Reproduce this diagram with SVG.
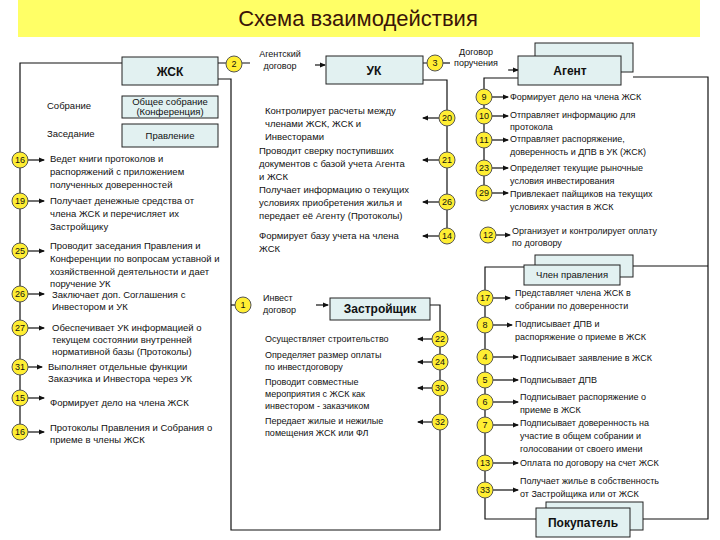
<svg xmlns="http://www.w3.org/2000/svg" width="720" height="540" viewBox="0 0 720 540">
<style>
text{font-family:"Liberation Sans",Arial,sans-serif;fill:#111}
.t{font-size:9.5px}
.s{font-size:9px}
.b{font-size:12px;font-weight:bold;text-anchor:middle}
.m{font-size:9.5px;text-anchor:middle}
.box{fill:#e2f1f1;stroke:#222;stroke-width:1}
.c circle{fill:#ffee33;stroke:#555;stroke-width:1}
.c text{font-size:9px;text-anchor:middle}
.ln{fill:none;stroke:#111;stroke-width:1.2}
</style>
<defs>
<marker id="a" markerWidth="6" markerHeight="6" refX="5" refY="3" orient="auto" markerUnits="userSpaceOnUse"><path d="M0,0.5L6,3L0,5.5z" fill="#111"/></marker>
</defs>
<rect x="18" y="0" width="682" height="37" fill="#ffff66"/>
<text x="358" y="26" style="font-size:22px;text-anchor:middle;fill:#3a1408">Схема взаимодействия</text>

<g id="connectors" class="ln">
<path d="M122,63H20V432"/>
<path d="M218,63H226M242,63H250"/>
<path d="M218,79H231V530H440V305H430"/>
<path d="M423,63H428M423,80H447V236"/>
<path d="M442,63H450"/>
<path d="M518,78H484V193"/>
<path d="M633,77H708V519H643"/>
<path d="M524,267H485V519H536"/>
<path d="M633,266H708"/>
<path d="M231,305H236"/>
<g marker-end="url(#a)">
<path d="M315,65H325"/><path d="M508,70H518"/><path d="M316,305H328"/>
<path d="M28,160H44"/><path d="M28,201H44"/><path d="M28,251H44"/><path d="M28,294H44"/><path d="M28,328H44"/><path d="M28,367H42"/><path d="M28,398H44"/><path d="M28,432H44"/>
<path d="M439,118H423"/><path d="M439,160H423"/><path d="M439,202H423"/><path d="M439,236H423"/>
<path d="M432,339H418"/><path d="M432,362H418"/><path d="M432,388H418"/><path d="M432,422H418"/>
<path d="M492,97H508"/><path d="M492,116H508"/><path d="M492,140H508"/><path d="M492,168H508"/><path d="M492,193H508"/><path d="M496,235H510"/>
<path d="M493,298H510"/><path d="M493,325H512"/><path d="M493,357H518"/><path d="M493,380H518"/><path d="M493,402H518"/><path d="M493,425H518"/><path d="M493,463H518"/><path d="M493,490H518"/>
</g>
</g>

<g id="zhsk"><rect class="box" x="122" y="57" width="96" height="28"/><text class="b" x="170" y="76">ЖСК</text></g>
<g id="sobranie"><text class="t" x="47" y="109">Собрание</text><rect class="box" x="122" y="96" width="96" height="22"/><text class="m" x="170" y="105">Общее собрание</text><text class="m" x="170" y="115">(Конференция)</text></g>
<g id="pravlenie"><text class="t" x="47" y="137">Заседание</text><rect class="box" x="122" y="124" width="96" height="23"/><text class="m" x="170" y="139">Правление</text></g>
<g id="uk"><rect class="box" x="326" y="56" width="97" height="28"/><text class="b" x="374" y="75">УК</text></g>
<g id="agent"><rect class="box" x="535" y="43" width="98" height="29"/><rect class="box" x="518" y="56" width="103" height="29"/><text class="b" x="570" y="75">Агент</text></g>
<g id="zastr"><rect class="box" x="330" y="298" width="100" height="22"/><text class="b" x="380" y="313">Застройщик</text></g>
<g id="chlen"><rect class="box" x="535" y="255" width="98" height="22"/><rect class="box" x="524" y="265" width="96" height="20"/><text class="m" x="572" y="278">Член правления</text></g>
<g id="pokup"><rect class="box" x="546" y="502" width="97" height="28"/><rect class="box" x="536" y="508" width="94" height="29"/><text class="b" x="583" y="527">Покупатель</text></g>

<g id="labels" class="s">
<text x="280" y="57" text-anchor="middle">Агентский</text><text x="280" y="69" text-anchor="middle">договор</text>
<text x="476" y="55" text-anchor="middle">Договор</text><text x="476" y="66" text-anchor="middle">поручения</text>
<text x="263" y="301">Инвест</text><text x="263" y="313">договор</text>
</g>

<g id="zhsk-items" class="t">
<text x="50" y="162">Ведет книги протоколов и</text><text x="50" y="175">распоряжений с приложением</text><text x="50" y="188">полученных доверенностей</text>
<text x="50" y="204">Получает денежные средства от</text><text x="50" y="217">члена ЖСК и перечисляет их</text><text x="50" y="230">Застройщику</text>
<text x="50" y="249">Проводит заседания Правления и</text><text x="50" y="262">Конференции по вопросам уставной и</text><text x="50" y="275">хозяйственной деятельности и дает</text><text x="50" y="287">поручение УК</text>
<text x="52" y="298">Заключает доп. Соглашения с</text><text x="52" y="310">Инвестором и УК</text>
<text x="52" y="331">Обеспечивает УК информацией о</text><text x="52" y="343">текущем состоянии внутренней</text><text x="52" y="355">нормативной базы (Протоколы)</text>
<text x="48" y="370">Выполняет отдельные функции</text><text x="48" y="382">Заказчика и Инвестора через УК</text>
<text x="50" y="406">Формирует дело на члена ЖСК</text>
<text x="50" y="431">Протоколы Правления и Собрания о</text><text x="50" y="443">приеме в члены ЖСК</text>
</g>
<g id="uk-items" class="t">
<text x="265" y="114">Контролирует расчеты между</text><text x="265" y="127">членами ЖСК, ЖСК и</text><text x="265" y="140">Инвесторами</text>
<text x="259" y="154">Проводит сверку поступивших</text><text x="259" y="167">документов с базой учета Агента</text><text x="259" y="180">и ЖСК</text>
<text x="259" y="193">Получает информацию о  текущих</text><text x="259" y="206">условиях приобретения жилья и</text><text x="259" y="219">передает её Агенту (Протоколы)</text>
<text x="259" y="239">Формирует базу учета на члена</text><text x="259" y="252">ЖСК</text>
</g>
<g id="zastr-items" class="s">
<text x="265" y="342">Осуществляет строительство</text>
<text x="265" y="358">Определяет размер оплаты</text><text x="265" y="370">по инвестдоговору</text>
<text x="265" y="385">Проводит совместные</text><text x="265" y="397">мероприятия с ЖСК как</text><text x="265" y="409">инвестором -  заказчиком</text>
<text x="265" y="424">Передает  жилые и нежилые</text><text x="265" y="436">помещения ЖСК или ФЛ</text>
</g>
<g id="agent-items" class="s">
<text x="510" y="100">Формирует дело на члена ЖСК</text>
<text x="510" y="118">Отправляет информацию для</text><text x="510" y="130">протокола</text>
<text x="510" y="142">Отправляет распоряжение,</text><text x="510" y="155">доверенность и ДПВ в УК (ЖСК)</text>
<text x="510" y="171">Определяет текущие рыночные</text><text x="510" y="184">условия инвестирования</text>
<text x="510" y="197">Привлекает пайщиков на текущих</text><text x="510" y="210">условиях участия в ЖСК</text>
<text x="512" y="234">Организует и контролирует оплату</text><text x="512" y="246">по договору</text>
</g>
<g id="buyer-items" class="s">
<text x="515" y="296">Представляет члена ЖСК  в</text><text x="515" y="309">собрании по доверенности</text>
<text x="515" y="327">Подписывает ДПВ  и</text><text x="515" y="340">распоряжение о приеме в ЖСК</text>
<text x="520" y="361">Подписывает заявление в ЖСК</text>
<text x="520" y="383">Подписывает ДПВ</text>
<text x="520" y="400">Подписывает распоряжение о</text><text x="520" y="413">приеме в ЖСК</text>
<text x="520" y="426">Подписывает доверенность на</text><text x="520" y="439">участие в общем собрании и</text><text x="520" y="452">голосовании от своего имени</text>
<text x="520" y="466">Оплата по договору на счет ЖСК</text>
<text x="520" y="484">Получает жилье в собственность</text><text x="520" y="497">от Застройщика или от ЖСК</text>
</g>

<g id="badges" class="c">
<circle cx="234" cy="64" r="8"/><text x="234" y="67">2</text>
<circle cx="435" cy="63" r="8"/><text x="435" y="66">3</text>
<circle cx="243" cy="305" r="8"/><text x="243" y="308">1</text>
<circle cx="20" cy="160" r="8"/><text x="20" y="163">16</text>
<circle cx="20" cy="201" r="8"/><text x="20" y="204">19</text>
<circle cx="20" cy="251" r="8"/><text x="20" y="254">25</text>
<circle cx="20" cy="294" r="8"/><text x="20" y="297">26</text>
<circle cx="20" cy="328" r="8"/><text x="20" y="331">27</text>
<circle cx="20" cy="367" r="8"/><text x="20" y="370">31</text>
<circle cx="20" cy="398" r="8"/><text x="20" y="401">15</text>
<circle cx="20" cy="432" r="8"/><text x="20" y="435">16</text>
<circle cx="447" cy="118" r="8"/><text x="447" y="121">20</text>
<circle cx="447" cy="160" r="8"/><text x="447" y="163">21</text>
<circle cx="447" cy="202" r="8"/><text x="447" y="205">26</text>
<circle cx="447" cy="236" r="8"/><text x="447" y="239">14</text>
<circle cx="440" cy="339" r="8"/><text x="440" y="342">22</text>
<circle cx="440" cy="362" r="8"/><text x="440" y="365">24</text>
<circle cx="440" cy="388" r="8"/><text x="440" y="391">30</text>
<circle cx="440" cy="422" r="8"/><text x="440" y="425">32</text>
<circle cx="484" cy="97" r="8"/><text x="484" y="100">9</text>
<circle cx="484" cy="116" r="8"/><text x="484" y="119">10</text>
<circle cx="484" cy="140" r="8"/><text x="484" y="143">11</text>
<circle cx="484" cy="168" r="8"/><text x="484" y="171">23</text>
<circle cx="484" cy="193" r="8"/><text x="484" y="196">29</text>
<circle cx="488" cy="235" r="8"/><text x="488" y="238">12</text>
<circle cx="485" cy="298" r="8"/><text x="485" y="301">17</text>
<circle cx="485" cy="325" r="8"/><text x="485" y="328">8</text>
<circle cx="485" cy="357" r="8"/><text x="485" y="360">4</text>
<circle cx="485" cy="380" r="8"/><text x="485" y="383">5</text>
<circle cx="485" cy="402" r="8"/><text x="485" y="405">6</text>
<circle cx="485" cy="425" r="8"/><text x="485" y="428">7</text>
<circle cx="485" cy="463" r="8"/><text x="485" y="466">13</text>
<circle cx="485" cy="490" r="8"/><text x="485" y="493">33</text>
</g>
</svg>
